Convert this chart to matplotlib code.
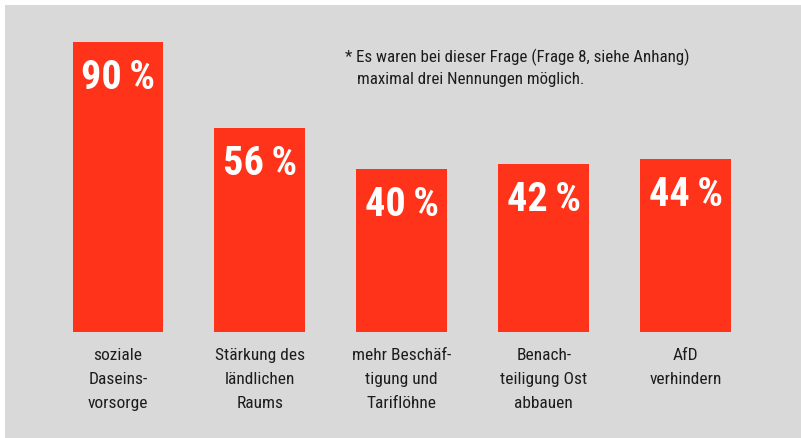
import matplotlib
matplotlib.use('Agg')
import matplotlib.pyplot as plt
from matplotlib.patches import Rectangle

# data
categories = ['soziale\nDaseins-\nvorsorge',
              'Stärkung des\nländlichen\nRaums',
              'mehr Beschäf-\ntigung und\nTariflöhne',
              'Benach-\nteiligung Ost\nabbauen',
              'AfD\nverhindern']
values = [90, 56, 40, 42, 44]
labels = ['90\u2009%', '56\u2009%', '40\u2009%', '42\u2009%', '44\u2009%']
note1 = '* Es waren bei dieser Frage (Frage 8, siehe Anhang)'
note2 = 'maximal drei Nennungen möglich.'

red = '#ff3319'
grey = '#d8d9d8'
ink = '#1c1c1c'
font = ['Roboto Condensed', 'DejaVu Sans']

W, H = 801, 439
fig = plt.figure(figsize=(W / 100, H / 100), dpi=100, facecolor='white')
fig.patches.append(Rectangle((5 / W, -0.01), 1.01, 1.01 - 6 / H, transform=fig.transFigure,
                             facecolor=grey, edgecolor='none', zorder=-10))

# axes spans from bar bottom (px 333) up to the top of the tallest bar (px 43)
ax = fig.add_axes([0, (H - 333) / H, 1, (333 - 43) / H])
ax.set_facecolor('none')
base = -24  # axis is cut below zero in the original
x = list(range(len(values)))
ax.bar(x, [v - base for v in values], bottom=base, width=0.64, color=red)
ax.set_ylim(base, max(values))
ax.set_xlim(-118 / 141.9, (W - 118) / 141.9)

for xi, v, lab in zip(x, values, labels):
    ax.annotate(lab, (xi, v), xytext=(0, -16), textcoords='offset pixels',
                ha='center', va='top', color='white', fontsize=29,
                fontweight='bold', family=font)

ax.set_xticks(x, categories, family=font, fontsize=12.5, color=ink, linespacing=1.72)
ax.tick_params(axis='x', length=0, pad=11)
ax.set_yticks([])
for s in ax.spines.values():
    s.set_visible(False)

fig.text(345 / W, 1 - 62 / H, note1, family=font, fontsize=12.2, color=ink, va='baseline')
fig.text(357 / W, 1 - 84 / H, note2, family=font, fontsize=12.2, color=ink, va='baseline')

fig.savefig('out.png', dpi=100, facecolor='white')
